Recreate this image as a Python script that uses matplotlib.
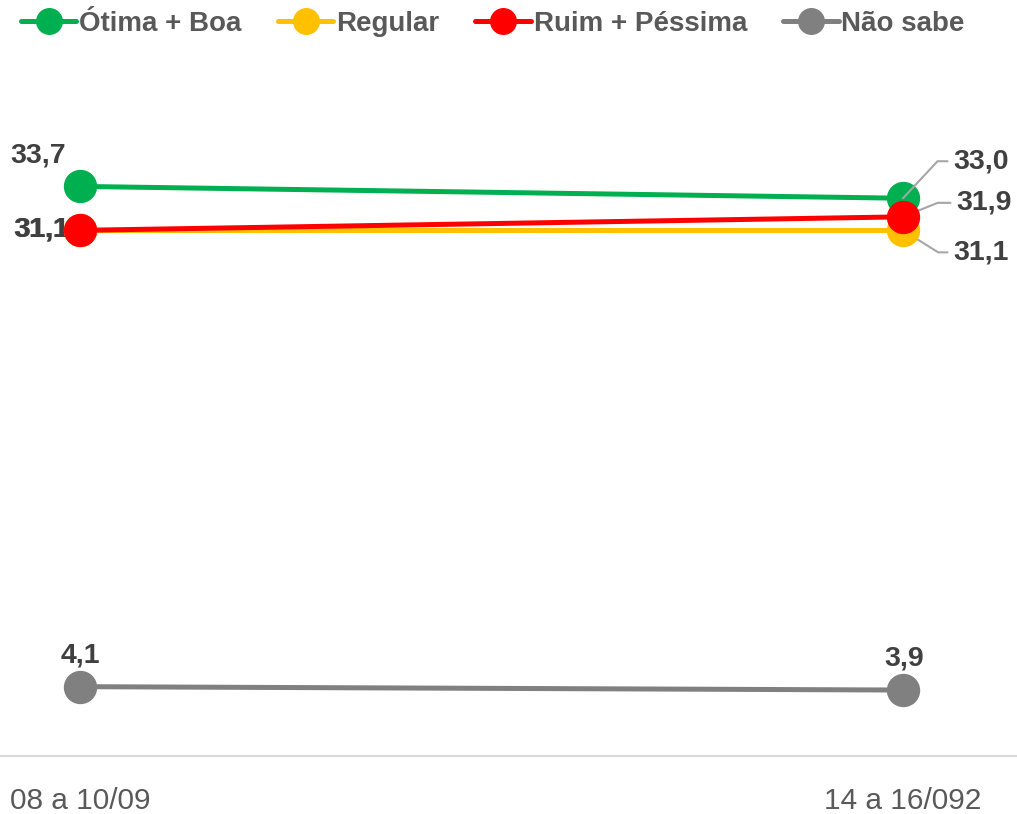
import matplotlib
matplotlib.use("Agg")
import matplotlib.pyplot as plt

plt.rcParams['font.family'] = ['Liberation Sans', 'DejaVu Sans']

periodos = ["08 a 10/09", "14 a 16/092"]
series = ["Ótima + Boa", "Regular", "Ruim + Péssima", "Não sabe"]
otima_boa = [33.7, 33.0]
regular = [31.1, 31.1]
ruim_pessima = [31.1, 31.9]
nao_sabe = [4.1, 3.9]
valores = [otima_boa, regular, ruim_pessima, nao_sabe]

cores = ["#00B050", "#FFC000", "#FF0000", "#808080"]
lab_cor = "#404040"
leader_cor = "#A6A6A6"

fig = plt.figure( figsize=( 10.17, 8.14 ), dpi=100 )
ax = fig.add_axes( [ 0.0, 0.0713, 1.0, 0.8305 ] )

x = list( range( len( periodos ) ) )
for i, s in enumerate( series ):
    ax.plot( x, valores[i], color=cores[i], lw=3.6, marker='o',
             markersize=23, label=s, zorder=3 + i, solid_capstyle='round' )

ax.set_xlim( -0.0972, 1.1385 )
ax.set_ylim( 0, 40 )

for sp in ['top', 'left', 'right']:
    ax.spines[sp].set_visible( False )
ax.spines['bottom'].set_color( '#D9D9D9' )
ax.spines['bottom'].set_linewidth( 1.5 )
ax.set_yticks( [] )
ax.set_xticks( x )
ax.set_xticklabels( periodos, fontsize=21.5, color='#595959' )
ax.tick_params( axis='x', length=0, pad=22 )

fs = 20.5
kw = dict( fontsize=fs, fontweight='bold', color=lab_cor, textcoords='offset pixels' )

# left side labels
ax.annotate( "33,7", ( x[0], otima_boa[0] ), xytext=( -42, 31 ), ha='center', va='center', **kw )
ax.annotate( "31,1", ( x[0], regular[0] ), xytext=( -39, 1 ), ha='center', va='center', **kw )
ax.annotate( "31,1", ( x[0], ruim_pessima[0] ), xytext=( -38, 1 ), ha='center', va='center', **kw )
ax.annotate( "4,1", ( x[0], nao_sabe[0] ), xytext=( 0, 31 ), ha='center', va='center', **kw )
ax.annotate( "3,9", ( x[1], nao_sabe[1] ), xytext=( 1, 32 ), ha='center', va='center', **kw )

# right side labels with leader lines
def leader( val, dx, dy, ang ):
    return ax.annotate( "{0:.1f}".format( val ).replace( '.', ',' ), ( x[1], val ),
                        xytext=( dx, dy ), ha='left', va='center',
                        arrowprops=dict( arrowstyle='-', color=leader_cor, lw=1.5,
                                         relpos=( 0, 0.5 ), shrinkA=2, shrinkB=0,
                                         connectionstyle='angle,angleA=0,angleB={0:}'.format( ang ) ),
                        **kw )

leader( otima_boa[1], 50, 37, 47 )
leader( ruim_pessima[1], 53, 14, 22 )
leader( regular[1], 50, -22, -32 )

leg = fig.legend( loc='upper left', bbox_to_anchor=( -0.004, 1.017 ), ncol=4, frameon=False,
                  handlelength=2.0, handletextpad=0.1, columnspacing=1.3,
                  markerscale=0.8, prop=dict( size=20, weight='bold' ) )
for t in leg.get_texts():
    t.set_color( '#595959' )

fig.savefig( "out.png", dpi=100 )
